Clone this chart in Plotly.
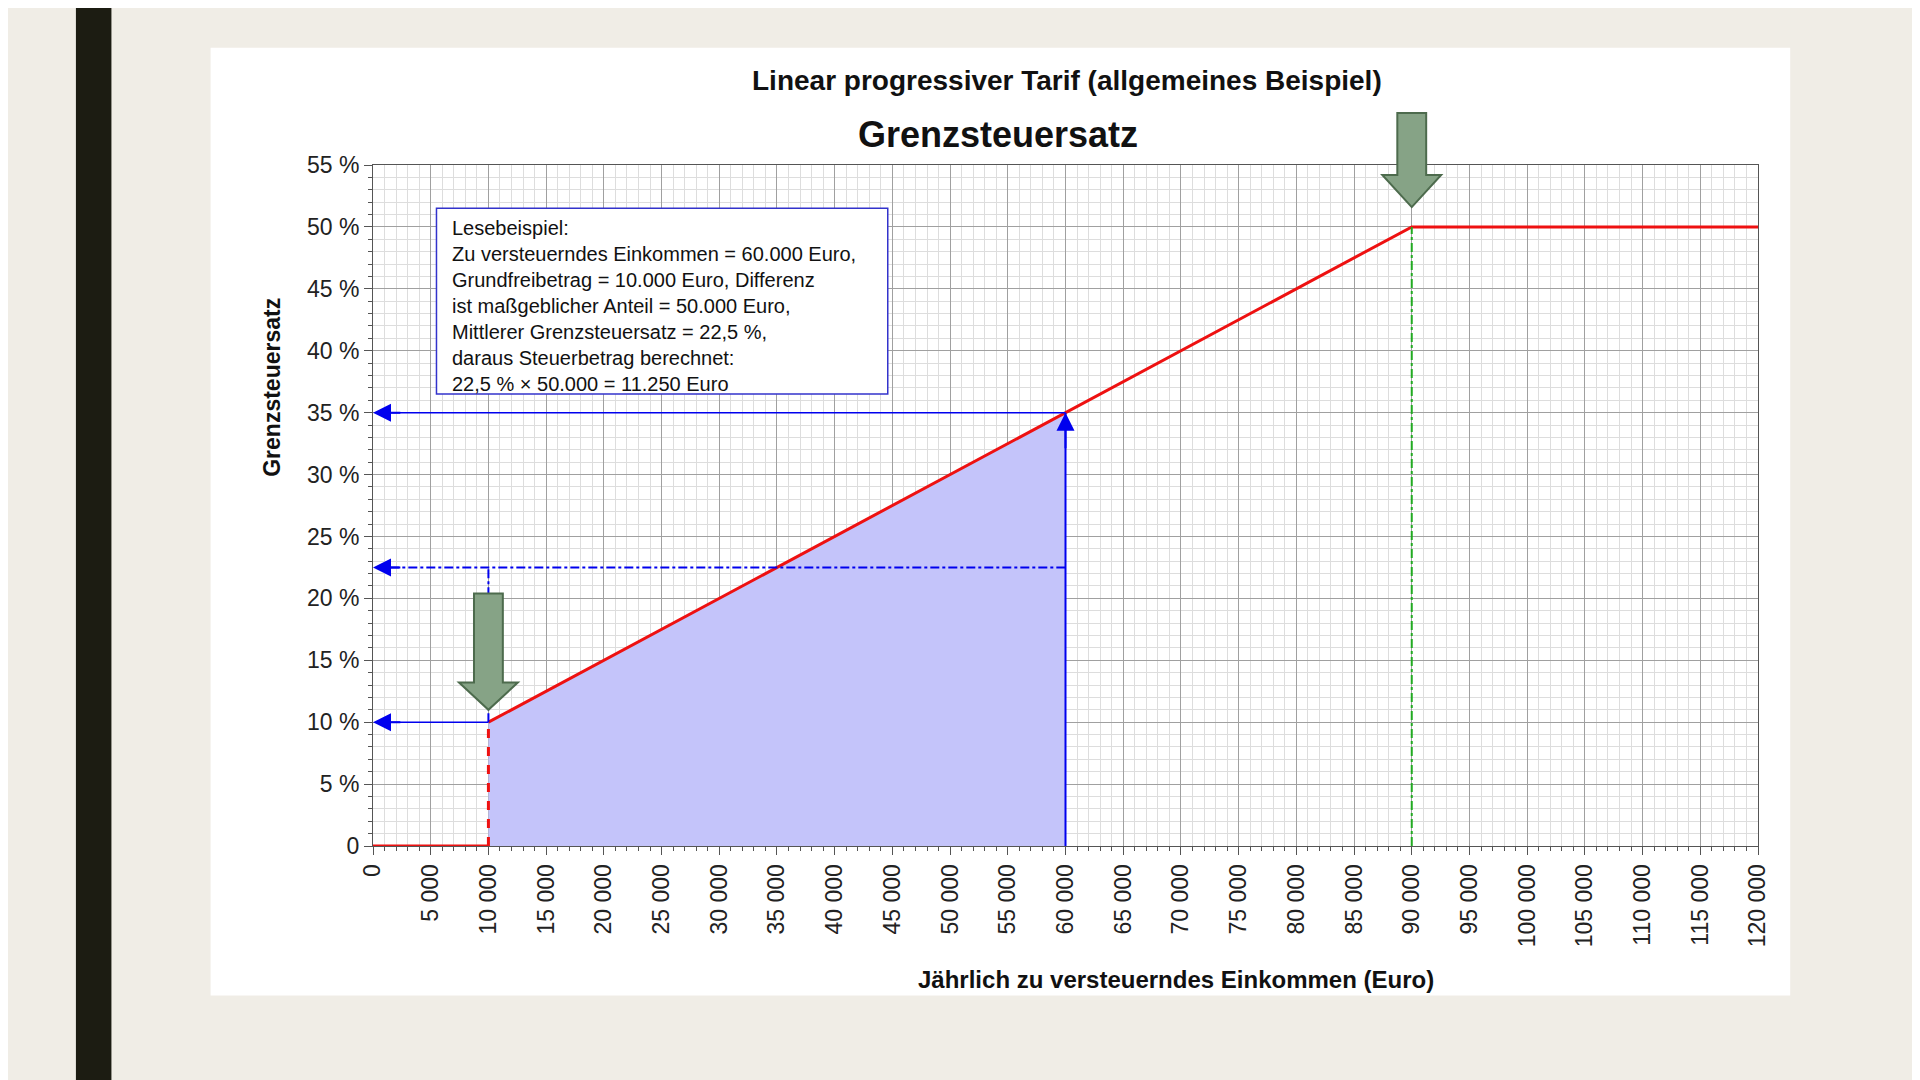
import plotly.graph_objects as go

# data
tarif_x = [0, 10000, 10000, 90000, 120000]
tarif_y = [0, 0, 10, 50, 50]
fill_x = [10000, 60000, 60000, 10000]
fill_y = [10, 35, 0, 0]
x_ticks = list(range(0, 120001, 5000))
y_ticks = list(range(0, 56, 5))
box_lines = ["Lesebeispiel:",
             "Zu versteuerndes Einkommen = 60.000 Euro,",
             "Grundfreibetrag = 10.000 Euro, Differenz",
             "ist maßgeblicher Anteil = 50.000 Euro,",
             "Mittlerer Grenzsteuersatz = 22,5 %,",
             "daraus Steuerbetrag berechnet:",
             "22,5 % × 50.000 = 11.250 Euro"]

W, H = 1912, 1072
L, T, PW, PH = 365, 157, 1385, 681
S = 1920 / 1568
OFF = 8


def px(x):  # reference display px -> paper x
    return (x * S - OFF - L) / PW


def py(y):
    return (T + PH - (y * S - OFF)) / PH


BLUE = "#0000ee"
fig = go.Figure()
fig.add_trace(go.Scatter(x=fill_x, y=fill_y, fill="toself", fillcolor="#c4c4fa",
                         line=dict(width=0), mode="lines", hoverinfo="skip"))
fig.add_trace(go.Scatter(x=[0, 10000], y=[0, 0], mode="lines", line=dict(color="#ee1111", width=3)))
fig.add_trace(go.Scatter(x=[10000, 10000], y=[0, 10], mode="lines", line=dict(color="#ee1111", width=3, dash="dash")))
fig.add_trace(go.Scatter(x=tarif_x[2:], y=tarif_y[2:], mode="lines", line=dict(color="#ee1111", width=3)))

fig.add_shape(type="line", x0=60000, x1=60000, y0=0, y1=35, line=dict(color=BLUE, width=2), layer="above")
fig.add_shape(type="line", x0=1500, x1=60000, y0=35, y1=35, line=dict(color=BLUE, width=1.5))
fig.add_shape(type="line", x0=1500, x1=10000, y0=10, y1=10, line=dict(color=BLUE, width=1.5))
fig.add_shape(type="line", x0=1500, x1=60000, y0=22.5, y1=22.5, line=dict(color=BLUE, width=2, dash="dashdot"))
fig.add_shape(type="line", x0=10000, x1=10000, y0=10, y1=22.5, line=dict(color=BLUE, width=2, dash="dashdot"))
fig.add_shape(type="line", x0=90000, x1=90000, y0=0, y1=50, line=dict(color="#22aa22", width=2, dash="dashdot"))

for (x0, y0, x1, y1) in [(2500, 35, 0, 35), (2500, 10, 0, 10), (2500, 22.5, 0, 22.5), (60000, 32, 60000, 35)]:
    fig.add_annotation(x=x1, y=y1, ax=x0, ay=y0, xref="x", yref="y", axref="x", ayref="y",
                       text="", showarrow=True, arrowhead=2, arrowsize=1.8, arrowwidth=2, arrowcolor=BLUE)


def block_arrow(xc, ytop, yhead, ytip, scale=1.0):
    s, h = 1250, 2550
    f = lambda v: v * scale
    return (f"M {xc-s},{f(ytop)} L {xc+s},{f(ytop)} L {xc+s},{f(yhead)} L {xc+h},{f(yhead)} "
            f"L {xc},{f(ytip)} L {xc-h},{f(yhead)} L {xc-s},{f(yhead)} Z")


fig.add_shape(type="path", path=block_arrow(10000, 20.4, 13.2, 11.0), xref="x", yref="y",
              fillcolor="#86a386", line=dict(color="#4d6b4d", width=2), layer="above")
fig.add_shape(type="path", path=block_arrow(90000, 59.2, 54.2, 51.6, 1/55), xref="x", yref="paper",
              fillcolor="#86a386", line=dict(color="#4d6b4d", width=2), layer="above")

fig.add_shape(type="rect", x0=5500, x1=44600, y0=36.5, y1=51.5, fillcolor="white",
              line=dict(color="#3333cc", width=1.5), layer="above")
fig.add_annotation(x=6700, y=51.0, xref="x", yref="y", xanchor="left", yanchor="top", align="left",
                   showarrow=False, text="<br>".join(box_lines),
                   font=dict(family="Liberation Sans", size=20, color="#111"))

# background
fig.add_shape(type="rect", xref="paper", yref="paper", x0=px(0) - 0.1, x1=px(1568) + 0.1,
              y0=py(882) - 0.1, y1=py(0) + 0.1, fillcolor="#f0ede6", line_width=0, layer="below")
fig.add_shape(type="rect", xref="paper", yref="paper", x0=px(62), x1=px(91),
              y0=py(882) - 0.1, y1=py(0) + 0.1, fillcolor="#1c1c12", line_width=0, layer="below")
fig.add_shape(type="rect", xref="paper", yref="paper", x0=px(172), x1=px(1462),
              y0=py(813), y1=py(39), fillcolor="white", line_width=0, layer="below")

fig.add_annotation(text="<b>Linear progressiver Tarif (allgemeines Beispiel)</b>", xref="paper", yref="paper",
                   x=px(871), y=py(66), xanchor="center", yanchor="middle", showarrow=False,
                   font=dict(size=28, color="#111"))
fig.add_annotation(text="<b>Grenzsteuersatz</b>", xref="paper", yref="paper",
                   x=px(815), y=py(110), xanchor="center", yanchor="middle", showarrow=False,
                   font=dict(size=36, color="#111"))
fig.add_annotation(text="<b>Jährlich zu versteuerndes Einkommen (Euro)</b>", xref="paper", yref="paper",
                   x=px(960), y=py(800), xanchor="center", yanchor="middle", showarrow=False,
                   font=dict(size=24, color="#111"))
fig.add_annotation(text="<b>Grenzsteuersatz</b>", xref="paper", yref="paper", textangle=-90,
                   x=px(222), y=py(316), xanchor="center", yanchor="middle", showarrow=False,
                   font=dict(size=23, color="#111"))

fig.update_layout(
    width=W, height=H, showlegend=False,
    margin=dict(l=L, r=W - L - PW, t=T, b=H - T - PH),
    paper_bgcolor="#f0ede6", plot_bgcolor="white",
    font=dict(family="Liberation Sans", size=23, color="#222"),
    xaxis=dict(range=[0, 120000], tickvals=x_ticks, ticktext=[f"{v:,}".replace(",", " ") for v in x_ticks],
               tickangle=-90, showgrid=True, gridcolor="#a0a0a0", gridwidth=1,
               minor=dict(dtick=1000, showgrid=True, gridcolor="#dddddd", ticks="outside", ticklen=4, tickcolor="#555"),
               ticks="outside", ticklen=8, tickcolor="#555", showline=True, linecolor="#555", zeroline=False,
               mirror=True),
    yaxis=dict(range=[0, 55], tickvals=y_ticks, ticktext=["0"] + [f"{v} %" for v in y_ticks[1:]],
               showgrid=True, gridcolor="#a0a0a0", gridwidth=1,
               minor=dict(dtick=1, showgrid=True, gridcolor="#dddddd", ticks="outside", ticklen=4, tickcolor="#555"),
               ticks="outside", ticklen=8, tickcolor="#555", showline=True, linecolor="#555", zeroline=False,
               mirror=True),
)
fig.write_html("out.html")
